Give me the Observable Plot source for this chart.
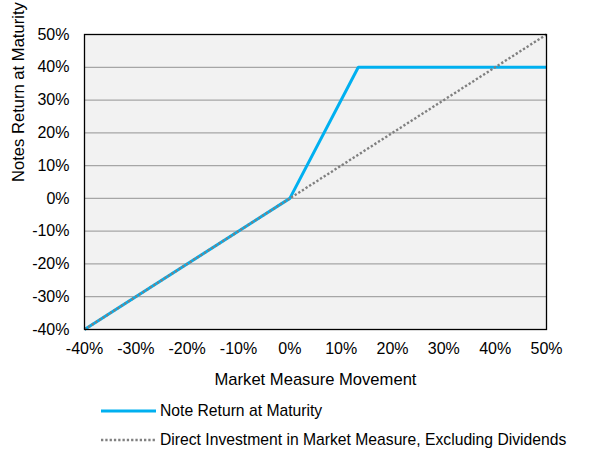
<!DOCTYPE html>
<html><head><meta charset="utf-8">
<script src="https://cdn.jsdelivr.net/npm/d3@7"></script>
<script src="https://cdn.jsdelivr.net/npm/@observablehq/plot@0.6"></script>
<style>
body{margin:0;background:#fff;font-family:"Liberation Sans",Arial,sans-serif;}
#wrap{position:relative;width:615px;height:469px;}
.leg{position:absolute;left:101px;font-size:15.7px;color:#000;display:flex;align-items:center;line-height:20px;}
.leg svg{margin-right:4px;}
</style></head>
<body><div id="wrap"></div>
<script>
const marketMove = [-40, 0, 13.333, 50];
const noteReturn = [-40, 0, 40, 40];
const directX = [-40, 50];
const directY = [-40, 50];
const ticks = [-40, -30, -20, -10, 0, 10, 20, 30, 40, 50];
const seriesNames = ["Note Return at Maturity", "Direct Investment in Market Measure, Excluding Dividends"];

const note = marketMove.map((x, i) => ({x, y: noteReturn[i]}));
const direct = directX.map((x, i) => ({x, y: directY[i]}));
const fmt = d => d + "%";

const chart = Plot.plot({
  width: 615, height: 395,
  marginTop: 34, marginLeft: 84, marginRight: 69, marginBottom: 66,
  style: {fontFamily: '"Liberation Sans", Arial, sans-serif', fontSize: "16px", color: "#000", background: "#fff"},
  x: {domain: [-40, 50], ticks: ticks, tickFormat: fmt, label: null},
  y: {domain: [-40, 50], ticks: ticks, tickFormat: fmt, label: null},
  marks: [
    Plot.frame({fill: "#f2f2f2"}),
    Plot.gridY(ticks.slice(1, -1), {stroke: "#a6a6a6", strokeOpacity: 1, strokeWidth: 1.3}),
    Plot.axisY({ticks: ticks, tickFormat: fmt, tickSize: 0, tickPadding: 15, fontSize: 16, label: null}),
    Plot.axisX({ticks: ticks, tickFormat: fmt, tickSize: 0, tickPadding: 13, fontSize: 16, label: null}),
    Plot.line(note, {x: "x", y: "y", stroke: "#00b0f0", strokeWidth: 3, strokeLinecap: "butt", strokeLinejoin: "miter"}),
    Plot.line(direct, {x: "x", y: "y", stroke: "#808080", strokeWidth: 2.4, strokeDasharray: "2.3,2", strokeLinecap: "butt"}),
    Plot.frame({stroke: "#000", strokeWidth: 1.3}),
    Plot.text(["Market Measure Movement"], {frameAnchor: "bottom", dy: 55, fontSize: 16.6, text: d => d}),
    Plot.text(["Notes Return at Maturity"], {frameAnchor: "left", dx: -66, rotate: -90, fontSize: 16.6, text: d => d})
  ]
});
document.getElementById("wrap").appendChild(chart);

const wrap = document.getElementById("wrap");
const l1 = document.createElement("div");
l1.className = "leg"; l1.style.top = "401px";
l1.innerHTML = `<svg width="55" height="6"><line x1="0" x2="55" y1="3" y2="3" stroke="#00b0f0" stroke-width="3"/></svg>${seriesNames[0]}`;
const l2 = document.createElement("div");
l2.className = "leg"; l2.style.top = "430px";
l2.innerHTML = `<svg width="55" height="6"><line x1="0" x2="55" y1="3" y2="3" stroke="#808080" stroke-width="2.4" stroke-dasharray="2.3,2"/></svg>${seriesNames[1]}`;
wrap.appendChild(l1); wrap.appendChild(l2);
</script></body></html>
